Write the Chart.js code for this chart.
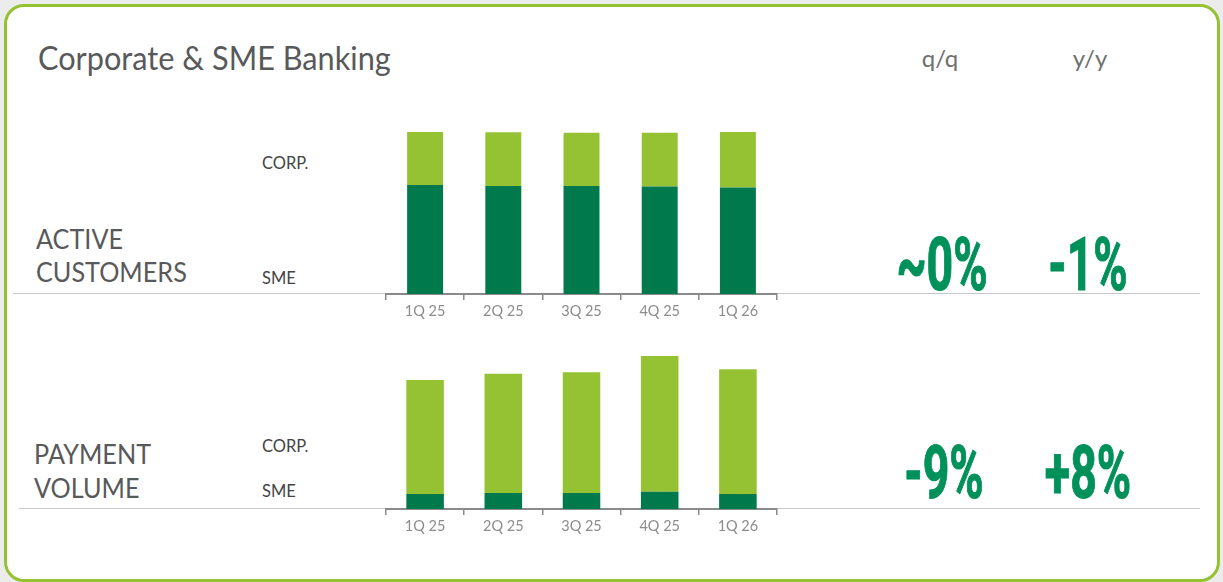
<!DOCTYPE html>
<html>
<head>
<meta charset="utf-8">
<script src="https://cdn.jsdelivr.net/npm/chart.js@4.4.1/dist/chart.umd.min.js"></script>
<style>
  html, body { margin: 0; padding: 0; }
  body { width: 1223px; height: 582px; background: #ececec; position: relative; overflow: hidden; font-family: Lato, "Open Sans", sans-serif; }
  .card { position: absolute; left: 4px; top: 4px; width: 1216px; height: 578px; box-sizing: border-box;
          border: 3px solid #94c232; border-radius: 20px; background: #fff; }
  .txt { position: absolute; white-space: nowrap; line-height: 1; color: #58595b; transform-origin: 0 0; }
  .sep { position: absolute; height: 1px; background: #c8c8c8; }
  .big { position: absolute; font-family: Roboto, sans-serif; font-weight: 700; font-size: 75px; line-height: 1;
         color: #00915a; -webkit-text-stroke: 1.2px #00915a; white-space: nowrap;
         transform: translateX(-50%) scaleX(0.62); transform-origin: 50% 0; }
  canvas { position: absolute; }
</style>
</head>
<body>
<div class="card"></div>

<div class="txt" style="left:38px; top:41px; font-size:33px; transform:scaleX(0.93);">Corporate &amp; SME Banking</div>
<div class="txt" style="left:940px; top:46px; font-size:24px; color:#707070; transform:translateX(-50%);">q/q</div>
<div class="txt" style="left:1090px; top:46px; font-size:24px; color:#707070; transform:translateX(-50%);">y/y</div>

<div class="txt" style="left:36px; top:226px; font-size:26px; transform:scaleX(0.97);">ACTIVE<br><span style="display:block;margin-top:7px">CUSTOMERS</span></div>
<div class="txt" style="left:262px; top:155px; font-size:16.5px; color:#444;">CORP.</div>
<div class="txt" style="left:262px; top:270px; font-size:16.5px; color:#444;">SME</div>

<div class="txt" style="left:34px; top:441px; font-size:26px; transform:scaleX(0.97);">PAYMENT<br><span style="display:block;margin-top:8px">VOLUME</span></div>
<div class="txt" style="left:262px; top:438px; font-size:16.5px; color:#444;">CORP.</div>
<div class="txt" style="left:262px; top:483px; font-size:16.5px; color:#444;">SME</div>

<div class="sep" style="left:13px; top:293px; width:1187px;"></div>
<div class="sep" style="left:19px; top:508px; width:1181px;"></div>

<div class="big" style="left:942px; top:227px;">~0%</div>
<div class="big" style="left:1088px; top:227px;">-1%</div>
<div class="big" style="left:944px; top:435px;">-9%</div>
<div class="big" style="left:1088px; top:435px;">+8%</div>

<canvas id="customersChart" width="430" height="210" style="left:370px; top:120px;"></canvas>
<canvas id="volumeChart" width="430" height="210" style="left:370px; top:335px;"></canvas>

<script>
// quarters on the x axis
const quarters = ["1Q 25", "2Q 25", "3Q 25", "4Q 25", "1Q 26"];

// active customers (relative units)
const customersSme = [109, 108, 108, 107.5, 106.5];
const customersCorp = [53, 53.7, 53.3, 53.8, 55.5];

// payment volume (relative units)
const volumeSme = [15, 16, 16, 17.3, 15];
const volumeCorp = [114, 119.3, 120.7, 135.7, 124.7];

const SME_GREEN = "#007a4d";
const CORP_GREEN = "#95c232";

function renderStackedChart(canvasId, sme, corp, barPct) {
  const ctx = document.getElementById(canvasId).getContext("2d");

  return new Chart(ctx, {
    type: "bar",
    data: {
      labels: quarters,
      datasets: [
        { label: "SME", data: sme, backgroundColor: SME_GREEN },
        { label: "CORP.", data: corp, backgroundColor: CORP_GREEN }
      ]
    },
    options: {
      responsive: false,
      animation: false,
      layout: { padding: { left: 16, right: 23, top: 0, bottom: 0 } },
      plugins: { legend: { display: false }, tooltip: { enabled: false } },
      datasets: { bar: { categoryPercentage: 1, barPercentage: barPct } },
      scales: {
        x: {
          stacked: true,
          afterFit: (scale) => { scale.height = 36; },
          grid: {
            display: true,
            drawOnChartArea: false,
            drawTicks: true,
            tickLength: 6,
            offset: true,
            color: "#8a8a8a",
            lineWidth: 1.5
          },
          border: { display: true, color: "#8a8a8a", width: 2 },
          ticks: {
            color: "#8c8c8c",
            padding: 3,
            font: { family: "Lato", size: 14.5 }
          }
        },
        y: {
          stacked: true,
          display: false,
          min: 0,
          max: 174
        }
      }
    }
  });
}

renderStackedChart("customersChart", customersSme, customersCorp, 0.46);
renderStackedChart("volumeChart", volumeSme, volumeCorp, 0.48);
</script>
</body>
</html>
